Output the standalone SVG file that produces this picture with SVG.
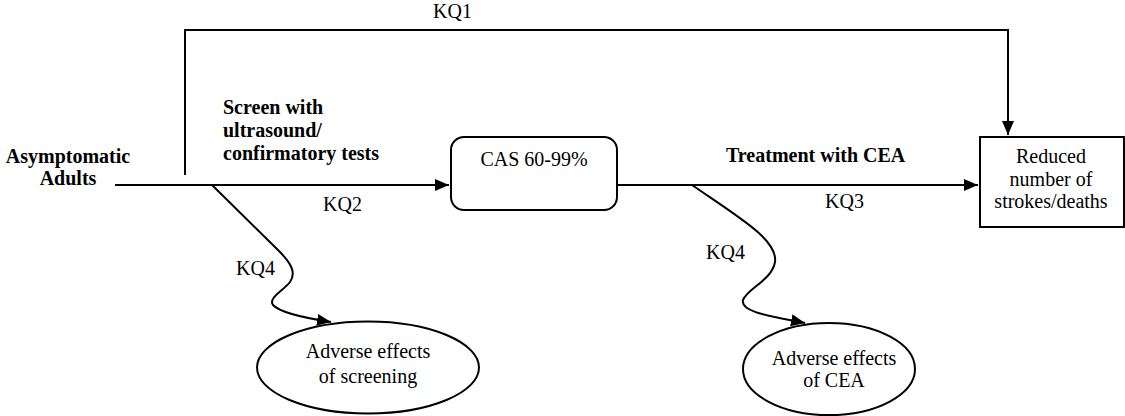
<svg xmlns="http://www.w3.org/2000/svg" width="1125" height="416" viewBox="0 0 1125 416">
<style>
.t{font-family:"Liberation Serif","Times New Roman",serif;font-size:20px;fill:#000}
.b{font-weight:bold}
.c{text-anchor:middle}
.s{fill:#fff;stroke:#000;stroke-width:2}
.l{fill:none;stroke:#000;stroke-width:2}
</style>
<defs>
<marker id="ah" markerUnits="userSpaceOnUse" markerWidth="15" markerHeight="13" refX="14" refY="6" orient="auto">
<path d="M0,0 L14,6 L0,12 z" fill="#000"/>
</marker>
</defs>
<rect width="1125" height="416" fill="#fff"/>
<g id="connectors">
<path class="l" d="M115,185 L449,185" marker-end="url(#ah)"/>
<path class="l" d="M617,185 L978,185" marker-end="url(#ah)"/>
<path class="l" d="M185,175 L185,30 L1008,30 L1008,135" marker-end="url(#ah)"/>
<path class="l" d="M212,185 L278,250 C290,262 297,272 290,282 C283,291 268,298 273,305 C280,313 305,318 331,322" marker-end="url(#ah)"/>
<path class="l" d="M692,185 C740,218 778,240 775,262 C772,280 748,288 743,300 C740,312 770,316 805,323" marker-end="url(#ah)"/>
<text class="t" x="433" y="18">KQ1</text>
<text class="t" x="323" y="211">KQ2</text>
<text class="t" x="825" y="208">KQ3</text>
<text class="t" x="236" y="275">KQ4</text>
<text class="t" x="706" y="259">KQ4</text>
<text class="t b" x="223" y="114">Screen with</text>
<text class="t b" x="223" y="137">ultrasound/</text>
<text class="t b" x="223" y="160">confirmatory tests</text>
<text class="t b" x="726" y="162">Treatment with CEA</text>
</g>
<g id="adults">
<text class="t b c" x="68" y="163">Asymptomatic</text>
<text class="t b c" x="68" y="185">Adults</text>
</g>
<g id="cas">
<rect class="s" x="451" y="137" width="166" height="73" rx="13"/>
<text class="t c" x="534" y="166">CAS 60-99%</text>
</g>
<g id="reduced">
<rect class="s" x="980" y="137" width="144" height="90"/>
<text class="t c" x="1051" y="163">Reduced</text>
<text class="t c" x="1051" y="186">number of</text>
<text class="t c" x="1051" y="208">strokes/deaths</text>
</g>
<g id="adverse-screening">
<ellipse class="s" cx="368" cy="367.5" rx="111" ry="46"/>
<text class="t c" x="368" y="358">Adverse effects</text>
<text class="t c" x="368" y="383">of screening</text>
</g>
<g id="adverse-cea">
<ellipse class="s" cx="829" cy="369" rx="86" ry="46"/>
<text class="t c" x="834" y="365">Adverse effects</text>
<text class="t c" x="834" y="387">of CEA</text>
</g>
</svg>
